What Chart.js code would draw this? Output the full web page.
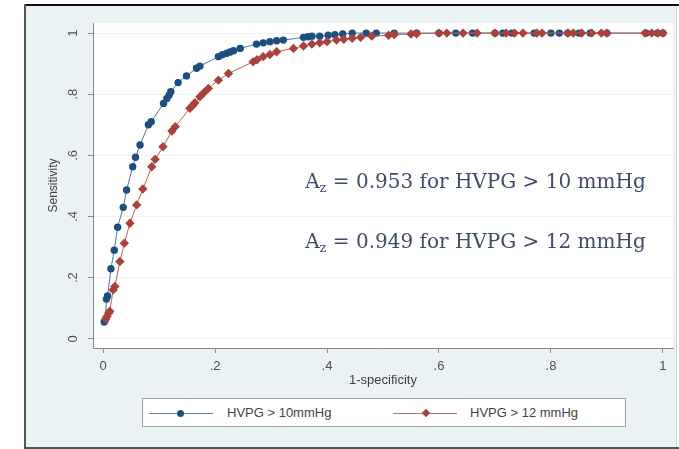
<!DOCTYPE html>
<html>
<head>
<meta charset="utf-8">
<script src="https://cdn.jsdelivr.net/npm/chart.js@4/dist/chart.umd.min.js"></script>
<style>
html,body{margin:0;padding:0;background:#fff;}
#wrap{position:relative;width:679px;height:449px;}
#legend{position:absolute;left:142px;top:398px;width:482px;height:27px;background:#fff;border:1px solid #a0a0a0;
  font:13px "Liberation Sans",Arial,sans-serif;color:#444;}
#legend .ln{position:absolute;top:14px;height:1px;width:64px;}
#legend .mk{position:absolute;}
#legend .tx{position:absolute;top:6px;white-space:nowrap;}
</style>
</head>
<body>
<div id="wrap">
<canvas id="roc" width="679" height="449"></canvas>
<div id="legend">
  <div class="ln" style="left:6px;background:#5f82a8"></div>
  <div class="mk" style="left:34px;top:11px;width:7px;height:7px;border-radius:50%;background:#1d4e80"></div>
  <div class="tx" style="left:84px">HVPG &gt; 10mmHg</div>
  <div class="ln" style="left:250px;background:#bf7371"></div>
  <div class="mk" style="left:280px;top:11px;width:6px;height:6px;transform:rotate(45deg);background:#a9423d"></div>
  <div class="tx" style="left:327px">HVPG &gt; 12 mmHg</div>
</div>
</div>
<script>
// ROC points, 1-specificity vs sensitivity
const fpr10 = [0.002,0.004,0.006,0.008,0.014,0.020,0.026,0.036,0.042,0.053,
  0.058,0.066,0.081,0.086,0.108,0.114,0.118,0.121,0.134,0.149,
  0.167,0.173,0.206,0.213,0.221,0.227,0.233,0.245,0.274,0.286,
  0.298,0.310,0.322,0.358,0.366,0.373,0.387,0.402,0.414,0.428,
  0.445,0.470,0.488,0.520,0.560,0.600,0.630,0.660,0.700,0.714,
  0.730,0.770,0.800,0.815,0.830,0.850,0.870,0.900,0.970,0.990,1.000];
const tpr10 = [0.055,0.062,0.130,0.140,0.229,0.290,0.365,0.430,0.487,0.563,
  0.594,0.634,0.700,0.710,0.770,0.786,0.797,0.808,0.838,0.860,
  0.885,0.892,0.923,0.929,0.934,0.938,0.942,0.950,0.964,0.968,
  0.972,0.975,0.977,0.986,0.988,0.990,0.990,0.993,0.995,0.997,
  1,1,1,1,1,1,1,1,1,1,
  1,1,1,1,1,1,1,1,1,1,1];

const fpr12 = [0.005,0.007,0.010,0.012,0.018,0.021,0.030,0.038,0.048,0.060,
  0.071,0.087,0.093,0.107,0.123,0.129,0.155,0.160,0.164,0.173,
  0.180,0.188,0.206,0.224,0.268,0.275,0.286,0.298,0.310,0.340,
  0.358,0.373,0.387,0.400,0.417,0.430,0.445,0.460,0.480,0.510,
  0.520,0.550,0.560,0.600,0.614,0.643,0.668,0.700,0.720,0.735,
  0.750,0.775,0.784,0.830,0.840,0.855,0.873,0.890,0.900,0.968,
  0.980,0.991,1.000];
const tpr12 = [0.065,0.073,0.084,0.090,0.160,0.171,0.253,0.313,0.378,0.438,
  0.490,0.563,0.587,0.628,0.680,0.694,0.754,0.763,0.772,0.792,
  0.805,0.819,0.846,0.868,0.906,0.913,0.923,0.930,0.939,0.950,
  0.958,0.964,0.968,0.972,0.977,0.980,0.983,0.986,0.990,0.993,
  0.995,0.997,0.998,1,1,1,1,1,1,1,
  1,1,1,1,1,1,1,1,1,1,
  1,1,1];

const axisTicks = [0, 0.2, 0.4, 0.6, 0.8, 1];
const areaLabels = ["0.953 for HVPG > 10 mmHg", "0.949 for HVPG > 12 mmHg"];
const areaLabelPos = [[0.361, 0.493], [0.361, 0.297]];

function pts(xs, ys){ return xs.map((x,i)=>({x:x, y:ys[i]})); }
function fmtTick(v){ return v===0 ? "0" : v===1 ? "1" : String(+v.toFixed(1)).replace("0.", "."); }

const frame = {
  id:"frame",
  beforeDraw(chart){
    const c = chart.ctx, a = chart.chartArea;
    c.save();
    c.fillStyle = "#eaf2f3";
    c.fillRect(25,5,652,443);
    c.fillStyle = "#fff";
    c.fillRect(a.left, a.top, a.right-a.left, a.bottom-a.top);
    c.fillStyle = "#111";
    c.fillRect(25,4,654,2);
    c.fillStyle = "#555";
    c.fillRect(24,4,2,445);
    c.fillRect(24,447,655,2);
    c.fillStyle = "#cfd6d8";
    c.fillRect(676,6,1,441);
    c.restore();
  },
  afterDraw(chart){
    // A_z annotations, subscript drawn smaller and lowered
    const c = chart.ctx, xs = chart.scales.x, ys = chart.scales.y;
    const big = '20px "DejaVu Serif", serif', small = '13px "DejaVu Serif", serif';
    c.save();
    c.fillStyle = "#3d4b6d";
    c.textBaseline = "alphabetic";
    areaLabels.forEach((t,i)=>{
      let px = xs.getPixelForValue(areaLabelPos[i][0]);
      const py = ys.getPixelForValue(areaLabelPos[i][1]);
      c.font = big;
      c.fillText("A", px, py);
      px += c.measureText("A").width;
      c.font = small;
      c.fillText("z", px, py+4);
      px += c.measureText("z").width;
      c.font = big;
      c.fillText(" = " + t, px, py);
    });
    c.restore();
  }
};

new Chart(document.getElementById("roc"), {
  type: "scatter",
  data: {
    datasets: [{
      label: "HVPG > 10mmHg",
      data: pts(fpr10, tpr10),
      showLine: true,
      borderColor: "#52779f",
      borderWidth: 1,
      backgroundColor: "#1d4e80",
      pointBorderColor: "#1d4e80",
      pointStyle: "circle",
      pointRadius: 3.7,
      pointBorderWidth: 0,
      order: 1
    },{
      label: "HVPG > 12 mmHg",
      data: pts(fpr12, tpr12),
      showLine: true,
      borderColor: "#b96360",
      borderWidth: 1,
      backgroundColor: "#a9423d",
      pointBorderColor: "#a9423d",
      pointStyle: "rectRot",
      pointRadius: 4.7,
      pointBorderWidth: 0,
      order: 0
    }]
  },
  options: {
    responsive: false,
    animation: false,
    layout: { padding: { top: 23, right: 6, left: 40, bottom: 59 } },
    plugins: { legend: { display: false }, tooltip: { enabled: false } },
    scales: {
      x: {
        type: "linear", min: -0.018, max: 1.018,
        afterBuildTicks(s){ s.ticks = axisTicks.map(v=>({value:v})); },
        afterFit(s){ s.height = 42; },
        grid: { drawOnChartArea: false, tickLength: 5, tickColor: "#8a8a8a" },
        border: { color: "#8a8a8a", width: 1 },
        ticks: { callback: fmtTick, padding: 6, maxRotation: 0, color: "#505050",
          font: { family: "Liberation Sans", size: 13 } },
        title: { display: true, text: "1-specificity", color: "#404040",
          padding: { top: 0, bottom: 2 }, font: { family: "Liberation Sans", size: 13 } }
      },
      y: {
        type: "linear", min: -0.03, max: 1.033,
        afterBuildTicks(s){ s.ticks = axisTicks.map(v=>({value:v})); },
        afterFit(s){ s.width = 53; },
        grid: { color: "#edf3f4", tickLength: 5, tickColor: "#8a8a8a" },
        border: { color: "#8a8a8a", width: 1 },
        ticks: { callback: fmtTick, padding: 9, minRotation: 90, maxRotation: 90,
          crossAlign: "center", color: "#505050", font: { family: "Liberation Sans", size: 13 } },
        title: { display: true, text: "Sensitivity", color: "#404040",
          padding: { top: 6, bottom: 0 }, font: { family: "Liberation Sans", size: 12 } }
      }
    }
  },
  plugins: [frame]
});
</script>
</body>
</html>
